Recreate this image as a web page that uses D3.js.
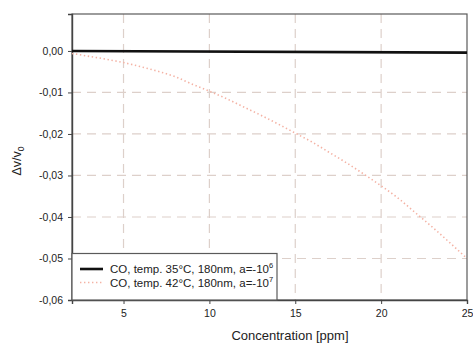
<!DOCTYPE html>
<html>
<head>
<meta charset="utf-8">
<script src="https://cdn.jsdelivr.net/npm/d3@7"></script>
<style>
  html, body { margin: 0; padding: 0; background: #fff; }
  svg { display: block; font-family: "Liberation Sans", Arial, sans-serif; }
</style>
</head>
<body>
<svg id="chart" width="473" height="345"></svg>
<script>
// Frequency shift vs. CO concentration
const xTicks = [5, 10, 15, 20, 25];
const yTicks = [0, -0.01, -0.02, -0.03, -0.04, -0.05, -0.06];

// CO, 35°C, 180 nm, a=-10^6
const conc35 = [2, 25];
const shift35 = [0, -0.0004];

// CO, 42°C, 180 nm, a=-10^7
const conc42 = [2, 3, 4, 5, 6, 7, 8, 9, 10, 11, 12, 13, 14, 15, 16, 17, 18, 19, 20, 21, 22, 23, 24, 25];
const shift42 = [-0.0006, -0.0013, -0.0020, -0.0028, -0.0038, -0.0049, -0.0062, -0.0080, -0.0097, -0.0115, -0.0135, -0.0155, -0.0176, -0.0198, -0.0220, -0.0245, -0.0270, -0.0297, -0.0325, -0.0355, -0.0390, -0.0425, -0.0462, -0.0500];

const legendLabels = [
  { text: "CO, temp. 35°C, 180nm, a=-10", sup: "6" },
  { text: "CO, temp. 42°C, 180nm, a=-10", sup: "7" }
];

const svg = d3.select("#chart");
const m = { left: 72, right: 467, top: 14, bottom: 300 };

const x = d3.scaleLinear().domain([2, 25]).range([m.left, m.right]);
const y = d3.scaleLinear().domain([-0.06, 0.0089]).range([m.bottom, m.top]);

const fmt = d => d3.format(".2f")(d).replace(".", ",").replace("−", "-");

// dashed grid
const grid = svg.append("g");
grid.selectAll("line.v").data(xTicks.filter(d => d < 25)).join("line")
  .attr("x1", d => x(d)).attr("x2", d => x(d))
  .attr("y1", m.top).attr("y2", m.bottom)
  .attr("stroke", "#ddd0ca").attr("stroke-width", 1.2).attr("stroke-dasharray", "9,6");
grid.selectAll("line.h").data(yTicks.filter(d => d < 0 && d > -0.06)).join("line")
  .attr("x1", m.left).attr("x2", m.right)
  .attr("y1", d => y(d)).attr("y2", d => y(d))
  .attr("stroke", "#ddd0ca").attr("stroke-width", 1.2).attr("stroke-dasharray", "9,6");

// plot frame
svg.append("rect")
  .attr("x", m.left).attr("y", m.top)
  .attr("width", m.right - m.left).attr("height", m.bottom - m.top)
  .attr("fill", "none").attr("stroke", "#5a5a5a").attr("stroke-width", 1.2);

// axes
const yAxis = svg.append("g").attr("transform", `translate(${m.left},0)`)
  .call(d3.axisLeft(y).tickValues(yTicks).tickFormat(fmt).tickSize(4).tickPadding(5));
const xAxis = svg.append("g").attr("transform", `translate(0,${m.bottom})`)
  .call(d3.axisBottom(x).tickValues(xTicks).tickSize(4).tickPadding(6));
[yAxis, xAxis].forEach(a => {
  a.select(".domain").attr("stroke", "#444").attr("stroke-width", 1.4);
  a.selectAll(".tick line").attr("stroke", "#444");
  a.selectAll(".tick text").attr("fill", "#222").style("font-size", "10.5px")
    .style("font-family", "'Liberation Sans', Arial, sans-serif");
});

// axis titles
svg.append("text")
  .attr("x", 290).attr("y", 340)
  .attr("text-anchor", "middle").attr("fill", "#222")
  .style("font-size", "13px")
  .text("Concentration [ppm]");

const yl = svg.append("text")
  .attr("transform", "translate(21,161) rotate(-90)")
  .attr("text-anchor", "middle").attr("fill", "#222")
  .style("font-size", "12.5px");
yl.append("tspan").text("Δv/v");
yl.append("tspan").attr("dy", 3).style("font-size", "8.5px").text("0");

// series
const line = d3.line().x(d => x(d[0])).y(d => y(d[1])).curve(d3.curveMonotoneX);

svg.append("path")
  .datum(d3.zip(conc42, shift42))
  .attr("d", line)
  .attr("fill", "none").attr("stroke", "#f4b2a4")
  .attr("stroke-width", 1.6).attr("stroke-dasharray", "1.4,2.6");

svg.append("path")
  .datum(d3.zip(conc35, shift35))
  .attr("d", line)
  .attr("fill", "none").attr("stroke", "#111").attr("stroke-width", 2.6);

// legend
const lg = svg.append("g");
lg.append("rect")
  .attr("x", m.left).attr("y", 253.5)
  .attr("width", 205).attr("height", m.bottom - 253.5)
  .attr("fill", "#fff").attr("stroke", "#5a5a5a").attr("stroke-width", 1.2);

const styles = [
  { stroke: "#111", width: 2.6, dash: null },
  { stroke: "#f4b2a4", width: 1.6, dash: "1.4,2.6" }
];
legendLabels.forEach((lab, i) => {
  const yy = 269 + i * 13.5;
  lg.append("line")
    .attr("x1", 80).attr("x2", 103).attr("y1", yy).attr("y2", yy)
    .attr("stroke", styles[i].stroke).attr("stroke-width", styles[i].width)
    .attr("stroke-dasharray", styles[i].dash);
  const t = lg.append("text")
    .attr("x", 110).attr("y", yy + 4)
    .attr("fill", "#222").style("font-size", "11.5px");
  t.append("tspan").text(lab.text);
  t.append("tspan").attr("dy", -5).style("font-size", "7.5px").text(lab.sup);
});
</script>
</body>
</html>
